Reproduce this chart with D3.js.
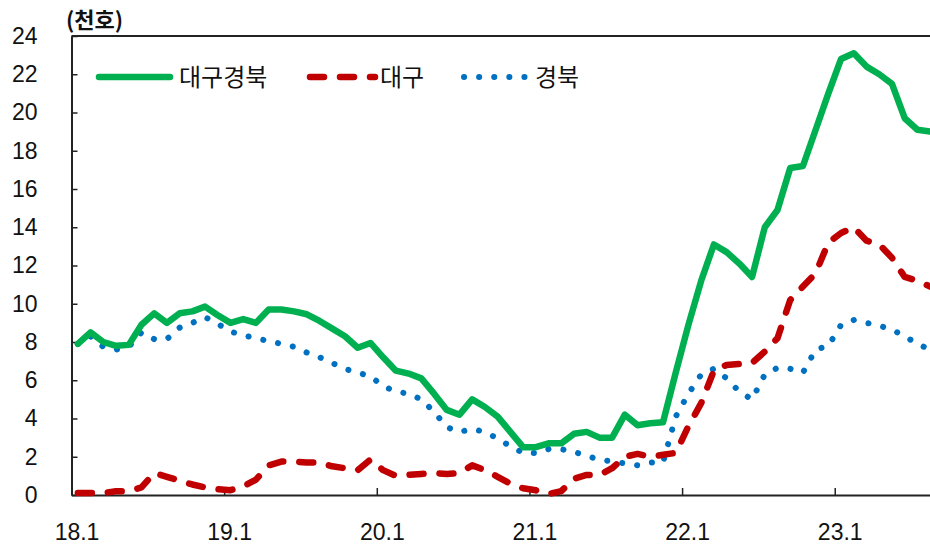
<!DOCTYPE html>
<html>
<head>
<meta charset="utf-8">
<script src="https://cdn.jsdelivr.net/npm/d3@7"></script>
<style>
  body { margin: 0; background: #fff; }
  svg { display: block; }
  .axis text { font-family: "Liberation Sans", Arial, sans-serif; font-size: 23px; fill: #111; }
  .kr { font-family: "Noto Sans CJK KR", sans-serif; fill: #111; }
</style>
</head>
<body>
<svg id="chart" width="930" height="547"></svg>
<script>
// monthly series, 2018.1 ~ 2023.8 (unit: thousand households)
const daeguGyeongbuk = [
  7.9, 8.5, 8.0, 7.8, 7.85, 8.9, 9.5, 9.0, 9.5, 9.6, 9.85, 9.4,
  9.0, 9.2, 9.0, 9.7, 9.7, 9.6, 9.45, 9.1, 8.7, 8.3, 7.7, 7.95,
  7.2, 6.5, 6.35, 6.1, 5.3, 4.45, 4.2, 5.0, 4.6, 4.1, 3.3, 2.5,
  2.5, 2.7, 2.7, 3.2, 3.3, 3.0, 3.0, 4.2, 3.65, 3.75, 3.8, 6.4,
  8.9, 11.2, 13.1, 12.7, 12.1, 11.4, 14.0, 14.9, 17.1, 17.2, 19.1, 21.0,
  22.8, 23.1, 22.4, 22.0, 21.5, 19.7, 19.1, 19.0
];
const daegu = [
  0.1, 0.1, 0.1, 0.2, 0.2, 0.4, 1.15, 0.95, 0.75, 0.55, 0.4, 0.3,
  0.25, 0.45, 0.8, 1.55, 1.75, 1.75, 1.7, 1.7, 1.5, 1.4, 1.3, 1.85,
  1.3, 1.0, 1.05, 1.1, 1.15, 1.1, 1.15, 1.55, 1.3, 0.95, 0.6, 0.35,
  0.25, 0.05, 0.2, 0.85, 1.05, 1.05, 1.4, 2.0, 2.15, 2.0, 2.1, 2.2,
  3.6, 4.8, 6.5, 6.8, 6.85, 6.9, 7.5, 8.2, 10.2, 10.9, 11.6, 13.2,
  13.7, 14.0, 13.3, 13.1, 12.4, 11.4, 11.2, 10.9
];
const gyeongbuk = [
  7.9, 8.3, 7.75, 7.6, 7.75, 8.5, 8.15, 8.15, 8.75, 9.0, 9.3, 8.95,
  8.55, 8.35, 8.2, 8.05, 7.9, 7.75, 7.45, 7.2, 6.9, 6.6, 6.4, 6.2,
  5.7, 5.4, 5.3, 5.0, 4.35, 3.55, 3.3, 3.45, 3.3, 2.95, 2.55, 2.2,
  2.2, 2.4, 2.4, 2.25, 2.05, 1.85, 1.75, 1.65, 1.55, 1.7, 1.7, 4.1,
  5.3, 6.3, 6.6, 6.1, 5.4, 5.0, 6.3, 6.65, 6.6, 6.4, 7.6, 7.8,
  8.9, 9.15, 9.0, 8.85, 8.65, 8.3, 7.9, 7.6
];
const xTickIndex = [0, 12, 24, 36, 48, 60];
const xTickLabels = ["18.1", "19.1", "20.1", "21.1", "22.1", "23.1"];
const yTicks = d3.range(0, 25, 2);
const legendNames = ["대구경북", "대구", "경북"];

const svg = d3.select("#chart");

// plot area runs a bit past the right edge of the picture
const x = d3.scaleLinear().domain([0, 68]).range([71.5, 936.5]);
const y = d3.scaleLinear().domain([0, 24]).range([495, 36]);

// axes
const xAxis = d3.axisBottom(x)
  .tickValues(xTickIndex)
  .tickFormat((d, i) => xTickLabels[i])
  .tickSize(-7)
  .tickSizeOuter(0)
  .tickPadding(29);

const gx = svg.append("g").attr("class", "axis")
  .attr("transform", `translate(0,${y(0)})`)
  .call(xAxis);
gx.selectAll("text").attr("dx", 5);
gx.selectAll("line").attr("stroke", "#222").attr("stroke-width", 1.5);
gx.select(".domain").attr("stroke", "#222").attr("stroke-width", 2);

const yAxis = d3.axisLeft(y)
  .tickValues(yTicks)
  .tickSize(-6)
  .tickSizeOuter(0)
  .tickPadding(34);

const gy = svg.append("g").attr("class", "axis")
  .attr("transform", `translate(${x(0)},0)`)
  .call(yAxis);
gy.selectAll("line").attr("stroke", "#222").attr("stroke-width", 1.5);
gy.select(".domain").attr("stroke", "#222").attr("stroke-width", 2);

// top border of the plot area
svg.append("line")
  .attr("x1", x(0)).attr("x2", x(68))
  .attr("y1", y(24)).attr("y2", y(24))
  .attr("stroke", "#222").attr("stroke-width", 2);

// unit label
svg.append("text").attr("class", "kr")
  .attr("x", 66).attr("y", 28)
  .attr("font-size", 22).attr("font-weight", "bold")
  .text("(천호)");

const line = d3.line()
  .x((d, i) => x(i + 0.5))
  .y(d => y(d));

const styles = [
  { data: daeguGyeongbuk, color: "#00B050", width: 6.5, dash: null },
  { data: daegu, color: "#C00000", width: 6.5, dash: "14,16" },
  { data: gyeongbuk, color: "#0070C0", width: 6, dash: "0.1,15" }
];

// draw blue first, then red, then green on top
[2, 1, 0].forEach(k => {
  const s = styles[k];
  svg.append("path")
    .datum(s.data)
    .attr("fill", "none")
    .attr("stroke", s.color)
    .attr("stroke-width", s.width)
    .attr("stroke-linejoin", "round")
    .attr("stroke-linecap", "round")
    .attr("stroke-dasharray", s.dash)
    .attr("d", line);
});

// legend
const legendX = [[99, 170, 179], [310, 375, 380], [464, 530, 535]];
const legendY = 77;
styles.forEach((s, k) => {
  const [x1, x2, tx] = legendX[k];
  svg.append("line")
    .attr("x1", x1).attr("x2", x2)
    .attr("y1", legendY).attr("y2", legendY)
    .attr("stroke", s.color)
    .attr("stroke-width", s.width)
    .attr("stroke-linecap", "round")
    .attr("stroke-dasharray", s.dash);
  svg.append("text").attr("class", "kr")
    .attr("x", tx).attr("y", legendY)
    .attr("dy", "0.36em")
    .attr("font-size", 24)
    .text(legendNames[k]);
});
</script>
</body>
</html>
